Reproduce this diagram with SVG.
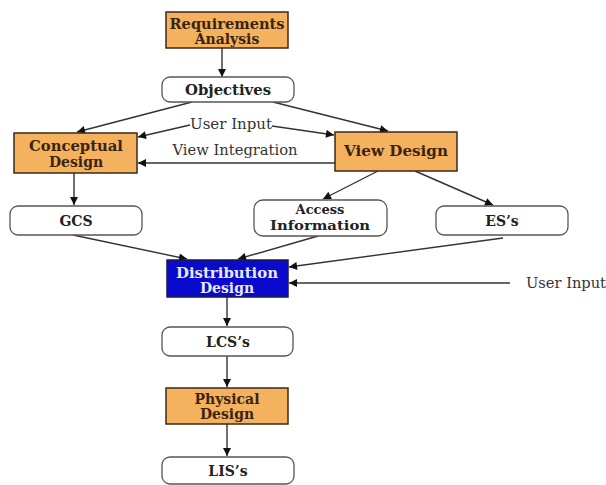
<svg xmlns="http://www.w3.org/2000/svg" width="606" height="485" viewBox="0 0 606 485">
<style>
.bg{fill:#ffffff}
.proc{fill:#f4b25f;stroke:#3a2a1a;stroke-width:1.5}
.dist{fill:#0a0acc;stroke:#1a1a4a;stroke-width:1.5}
.data{fill:#ffffff;stroke:#555555;stroke-width:1.3}
.t{font-family:"DejaVu Serif","Liberation Serif",serif;font-weight:bold;font-size:14px;text-anchor:middle;fill:#222222}
.ts{font-size:13px}
.tp{fill:#3a2410}
.tw{fill:#e8e8ff}
.lbl{font-family:"DejaVu Serif","Liberation Serif",serif;font-size:14px;fill:#333333}
.c{stroke:#333333;stroke-width:1.4;fill:none;marker-end:url(#ah)}
</style>
<defs>
<marker id="ah" viewBox="0 0 10 10" refX="10" refY="5" markerWidth="9" markerHeight="8" markerUnits="userSpaceOnUse" orient="auto">
<path d="M0,0 L10,5 L0,10 z" fill="#111111"/>
</marker>
</defs>
<rect class="bg" x="0" y="0" width="606" height="485"/>
<g id="connectors">
<line class="c" x1="222" y1="48" x2="222" y2="77"/>
<line class="c" x1="192" y1="102" x2="77" y2="132"/>
<line class="c" x1="273" y1="102" x2="388" y2="131"/>
<line class="c" x1="190" y1="125" x2="138" y2="137"/>
<line class="c" x1="272" y1="126" x2="334" y2="135"/>
<line class="c" x1="335" y1="163" x2="138" y2="163"/>
<line class="c" x1="74" y1="173" x2="74" y2="205"/>
<line class="c" x1="378" y1="171" x2="323" y2="199"/>
<line class="c" x1="415" y1="171" x2="493" y2="205"/>
<line class="c" x1="73" y1="235" x2="187" y2="259"/>
<line class="c" x1="318" y1="236" x2="238" y2="259"/>
<line class="c" x1="503" y1="238" x2="289" y2="267"/>
<line class="c" x1="510" y1="283" x2="289" y2="283"/>
<line class="c" x1="227" y1="297" x2="227" y2="326"/>
<line class="c" x1="227" y1="356" x2="227" y2="387"/>
<line class="c" x1="227" y1="424" x2="227" y2="456"/>
<text class="lbl" x="231" y="129" text-anchor="middle" textLength="82" lengthAdjust="spacingAndGlyphs">User Input</text>
<text class="lbl" x="235" y="155" text-anchor="middle" textLength="125" lengthAdjust="spacingAndGlyphs">View Integration</text>
<text class="lbl" x="526" y="288" textLength="80" lengthAdjust="spacingAndGlyphs">User Input</text>
</g>
<g id="requirements-analysis">
<rect class="proc" x="166" y="12" width="122" height="36"/>
<text class="t tp" x="227" y="29" textLength="115" lengthAdjust="spacingAndGlyphs">Requirements</text>
<text class="t tp" x="227" y="44">Analysis</text>
</g>
<g id="objectives">
<rect class="data" x="162" y="77" width="132" height="25" rx="8"/>
<text class="t" x="228" y="95" textLength="86" lengthAdjust="spacingAndGlyphs">Objectives</text>
</g>
<g id="conceptual-design">
<rect class="proc" x="14" y="133" width="123" height="40"/>
<text class="t tp" x="76" y="151" textLength="94" lengthAdjust="spacingAndGlyphs">Conceptual</text>
<text class="t tp" x="76" y="167">Design</text>
</g>
<g id="view-design">
<rect class="proc" x="335" y="132" width="122" height="39"/>
<text class="t tp" x="396" y="156" textLength="104" lengthAdjust="spacingAndGlyphs">View Design</text>
</g>
<g id="gcs">
<rect class="data" x="10" y="206" width="132" height="29" rx="8"/>
<text class="t" x="76" y="226">GCS</text>
</g>
<g id="access-information">
<rect class="data" x="254" y="200" width="133" height="36" rx="9"/>
<text class="t ts" x="320" y="214">Access</text>
<text class="t ts" x="320" y="230" textLength="100" lengthAdjust="spacingAndGlyphs">Information</text>
</g>
<g id="es">
<rect class="data" x="436" y="206" width="132" height="29" rx="8"/>
<text class="t" x="502" y="226">ES’s</text>
</g>
<g id="distribution-design">
<rect class="dist" x="167" y="260" width="121" height="37"/>
<text class="t tw" x="227" y="278" textLength="102" lengthAdjust="spacingAndGlyphs">Distribution</text>
<text class="t tw" x="227" y="293">Design</text>
</g>
<g id="lcs">
<rect class="data" x="162" y="327" width="131" height="29" rx="8"/>
<text class="t" x="228" y="347">LCS’s</text>
</g>
<g id="physical-design">
<rect class="proc" x="166" y="388" width="122" height="36"/>
<text class="t tp" x="227" y="404">Physical</text>
<text class="t tp" x="227" y="419">Design</text>
</g>
<g id="lis">
<rect class="data" x="162" y="457" width="132" height="27" rx="8"/>
<text class="t" x="228" y="476">LIS’s</text>
</g>
</svg>
